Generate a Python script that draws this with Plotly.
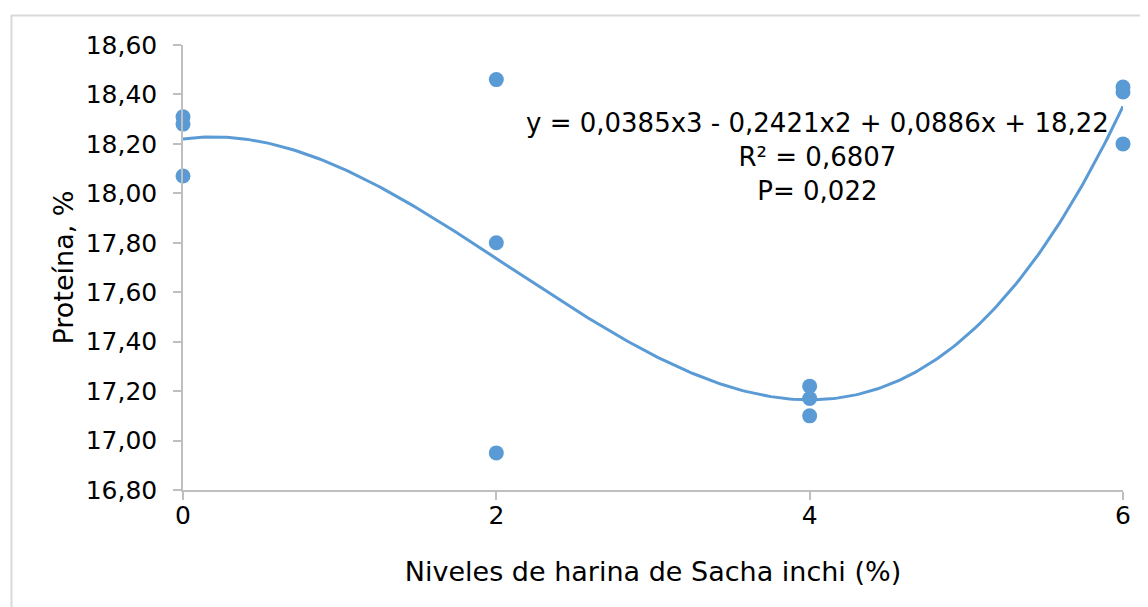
import numpy as np
import plotly.graph_objects as go

# Data
niveles = [0, 0, 0, 2, 2, 2, 4, 4, 4, 6, 6, 6]
proteina = [18.31, 18.28, 18.07, 18.46, 17.80, 16.95, 17.22, 17.17, 17.10, 18.43, 18.41, 18.20]

# Cubic trendline coefficients shown on the chart (x^3, x^2, x, const)
coef = [0.0385, -0.2421, 0.0886, 18.22]
eq_lines = ["y = 0,0385x3 - 0,2421x2 + 0,0886x + 18,22", "R² = 0,6807", "P= 0,022"]

y_ticks = [16.8, 17.0, 17.2, 17.4, 17.6, 17.8, 18.0, 18.2, 18.4, 18.6]
x_ticks = [0, 2, 4, 6]

COLOR = "#5B9BD5"
FONT = "DejaVu Sans, Liberation Sans, Arial, sans-serif"

xs = np.linspace(0, 6, 300)
ys = np.polyval(coef, xs)

fig = go.Figure()
fig.add_trace(go.Scatter(x=xs, y=ys, mode="lines",
                         line=dict(color=COLOR, width=3), cliponaxis=False,
                         hoverinfo="skip", showlegend=False))
fig.add_trace(go.Scatter(x=niveles, y=proteina, mode="markers",
                         marker=dict(color=COLOR, size=15), cliponaxis=False,
                         showlegend=False))

fig.add_annotation(x=4.05, y=18.145, xref="x", yref="y",
                   text="<br>".join(eq_lines), showarrow=False, align="center",
                   font=dict(family=FONT, size=26, color="#000000"))

# page body adds an 8px offset; figure sized to fill the rest of the window
OFF = 8
W, H = 1148 - OFF, 607 - OFF
L, R, T, B = 183 - OFF, 25, 45 - OFF, 117
pw, ph = W - L - R, H - T - B

def px_x(p):
    return (p - OFF - L) / pw

def px_y(p):
    return 1 - (p - OFF - T) / ph

# Outer chart border (left and top edges visible)
fig.add_shape(type="line", xref="paper", yref="paper",
              x0=px_x(11), x1=px_x(1170), y0=px_y(15.5), y1=px_y(15.5),
              line=dict(color="#d9d9d9", width=2))
fig.add_shape(type="line", xref="paper", yref="paper",
              x0=px_x(11.5), x1=px_x(11.5), y0=px_y(15), y1=px_y(640),
              line=dict(color="#d9d9d9", width=2))

fig.update_layout(
    width=W, height=H,
    margin=dict(l=L, r=R, t=T, b=B),
    paper_bgcolor="white", plot_bgcolor="white",
    separators=",.",
    font=dict(family=FONT, color="#000000"),
    xaxis=dict(range=[0, 6], tickvals=x_ticks, ticks="outside", ticklen=8,
               tickcolor="#bfbfbf", tickwidth=1.5,
               showline=True, linecolor="#bfbfbf", linewidth=1.5,
               showgrid=False, zeroline=False, ticklabelstandoff=-6,
               tickfont=dict(family=FONT, size=25),
               title=dict(text="Niveles de harina de Sacha inchi (%)",
                          font=dict(family=FONT, size=27), standoff=33)),
    yaxis=dict(range=[16.8, 18.6], tickvals=y_ticks, tickformat=".2f",
               ticks="outside", ticklen=8, tickcolor="#bfbfbf", tickwidth=1.5,
               showline=True, linecolor="#bfbfbf", linewidth=1.5,
               showgrid=False, zeroline=False, ticklabelstandoff=11,
               tickfont=dict(family=FONT, size=25),
               title=dict(text="Proteína, %", font=dict(family=FONT, size=27),
                          standoff=4)),
)

fig.write_html("out.html")
